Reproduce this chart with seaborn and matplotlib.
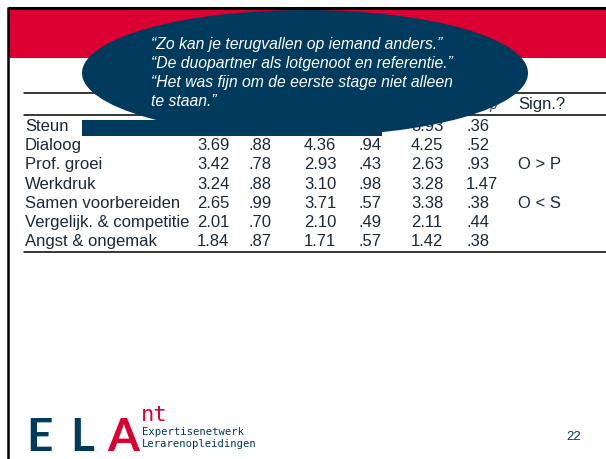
import matplotlib
matplotlib.use("Agg")
import matplotlib.pyplot as plt
from matplotlib.patches import Ellipse, Rectangle
import numpy as np
import pandas as pd
import seaborn as sns

# table data (Steun row mostly hidden behind the callout)
rows = ['Steun', 'Dialoog', 'Prof. groei', 'Werkdruk', 'Samen voorbereiden',
        'Vergelijk. & competitie', 'Angst & ongemak']
m_o = [np.nan, 3.69, 3.42, 3.24, 2.65, 2.01, 1.84]
sd_o = [np.nan, .88, .78, .88, .99, .70, .87]
m_s = [np.nan, 4.36, 2.93, 3.10, 3.71, 2.10, 1.71]
sd_s = [np.nan, .94, .43, .98, .57, .49, .57]
m_p = [3.93, 4.25, 2.63, 3.28, 3.38, 2.11, 1.42]
sd_p = [.36, .52, .93, 1.47, .38, .44, .38]
sign = ['', '', 'O > P', '', 'O < S', '', '']
# only the last two header cells peek out from under the callout
header = ['', '', '', '', '', 'SD$_p$', 'Sign.?']

quote = ['\u201cZo kan je terugvallen op iemand anders.\u201d',
         '\u201cDe duopartner als lotgenoot en referentie.\u201d',
         '\u201cHet was fijn om de eerste stage niet alleen',
         'te staan.\u201d']

RED = '#DC0032'
NAVY = '#003A5D'
INK = '#1B2838'

sns.set_theme(style='white')
plt.rcParams['font.family'] = ['Liberation Sans', 'DejaVu Sans']

table = pd.DataFrame({'m_o': m_o, 'sd_o': sd_o, 'm_s': m_s, 'sd_s': sd_s,
                      'm_p': m_p, 'sd_p': sd_p}, index=rows)


def fmt(v):
    if pd.isna(v):
        return ''
    s = f'{v:.2f}'
    return s[1:] if s.startswith('0') else s


fig = plt.figure(figsize=(6.06, 4.59), dpi=100)
ax = fig.add_axes([0, 0, 1, 1])
ax.set_xlim(0, 606)
ax.set_ylim(459, 0)
ax.axis('off')

# slide frame + red title band
ax.add_patch(Rectangle((9, 10), 606, 48, color=RED, lw=0, zorder=1))
ax.plot([7.5, 606], [8, 8], color='black', lw=2.2, zorder=2, solid_capstyle='butt')
ax.plot([8, 8], [7, 459], color='black', lw=1.8, zorder=2, solid_capstyle='butt')

# table rules
for y in (93, 115, 252):
    ax.plot([24, 606], [y, y], color='black', lw=1.1, zorder=2)

col_x = [197, 248, 304, 358, 411, 466, 518]
fs = 12
for x, h in zip(col_x, header):
    if h:
        ax.text(x, 104, h, fontsize=fs, color=INK, va='center', ha='left', zorder=2)

y0, dy = 126.5, 19.2
for i, name in enumerate(table.index):
    y = y0 + i * dy
    ax.text(25, y, name, fontsize=fs, color=INK, va='center', ha='left', zorder=2)
    vals = [fmt(v) for v in table.loc[name]] + [sign[i]]
    for x, s in zip(col_x, vals):
        if s:
            ax.text(x, y, s, fontsize=fs, color=INK, va='center', ha='left', zorder=2)

# callout
ax.add_patch(Ellipse((305, 73), 446, 126, color=NAVY, lw=0, zorder=5))
ax.add_patch(Rectangle((82, 120), 300, 16, color=NAVY, lw=0, zorder=5))
for j, line in enumerate(quote):
    ax.text(151, 45 + j * 18.7, line, fontsize=11.3, style='italic', color='white',
            va='center', ha='left', zorder=6)

# footer logo
ax.text(26, 451, 'E', fontsize=33, color=NAVY, family='Lato', weight='bold',
        va='baseline', zorder=2)
ax.text(70, 451, 'L', fontsize=33, color=NAVY, family='Lato', weight='bold',
        va='baseline', zorder=2)
ax.text(107, 451, 'A', fontsize=33, color=RED, family='Lato', weight='bold',
        va='baseline', zorder=2)
ax.text(141, 421, 'nt', fontsize=16, color=RED, family='DejaVu Sans Mono', va='baseline', zorder=2)
ax.text(142, 435, 'Expertisenetwerk', fontsize=7.6, color=NAVY, family='DejaVu Sans Mono',
        va='baseline', zorder=2)
ax.text(142, 447, 'Lerarenopleidingen', fontsize=7.6, color=NAVY, family='DejaVu Sans Mono',
        va='baseline', zorder=2)
ax.text(574, 437, '22', fontsize=9.5, color=NAVY, ha='center', va='center', zorder=2)

fig.savefig('out.png', dpi=100)
